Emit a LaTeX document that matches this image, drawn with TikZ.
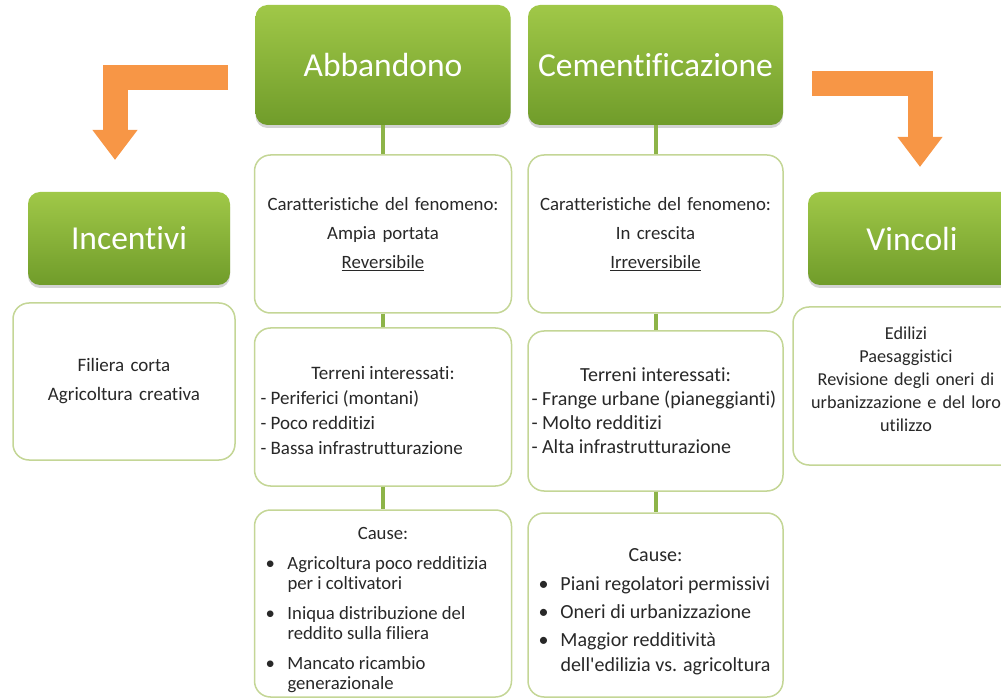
\documentclass[tikz,border=0pt]{standalone}
\usepackage{fontspec}
\setmainfont{Carlito}[Ligatures=NoCommon]
\usepackage{tikz}
\usetikzlibrary{shadows}
\usetikzlibrary{arrows.meta,shapes}
\definecolor{leafgreen}{RGB}{160,200,72}
\definecolor{darkleaf}{RGB}{112,156,42}
\definecolor{paleolive}{RGB}{196,214,150}
\definecolor{linkgreen}{RGB}{141,180,72}
\definecolor{pumpkin}{RGB}{247,150,70}
\definecolor{inkgray}{RGB}{40,40,40}
\newcommand{\boxhead}[2][0pt]{{\centering\rule{0pt}{#1}#2\par}}
\newcommand{\causeitem}[2][10pt]{\par\vspace{#1}\hangindent=25pt\hangafter=1\noindent\makebox[25pt][l]{\hspace{3pt}\textbullet}#2\par}
\tikzstyle{titlebox}=[rectangle,rounded corners=12pt,top color=leafgreen,bottom color=darkleaf,text=white,font=\fontsize{33.5}{40}\selectfont,drop shadow={opacity=0.35,shadow xshift=0pt,shadow yshift=-3pt}]
\tikzstyle{infobox}=[rectangle,rounded corners=16pt,draw=paleolive,line width=1.5pt,fill=white,text=inkgray,inner xsep=7pt,font=\fontsize{18.8}{27}\selectfont]
\tikzstyle{edge}=[draw,linkgreen,line width=4pt]
\tikzstyle{bigarrow}=[draw,pumpkin,line width=25pt,line join=miter,-{Triangle[width=43pt,length=30pt]}]

\begin{document}
\begin{tikzpicture}[x=1pt,y=-1pt]
    \useasboundingbox (0,0) rectangle (1001,700);

    \foreach \x/\y/\w/\h/\name/\txt in {383/65/255/120/abb/Abbandono, 655.5/65/255/120/cem/Cementificazione, 129/238.5/202/93/inc/Incentivi, 912/238.5/208/93/vin/Vincoli}
        \node[titlebox, minimum width=\w, minimum height=\h] (\name) at (\x,\y) {\txt};

    \node[infobox, minimum width=257, minimum height=158, text width=243, align=center, font=\fontsize{18.8}{29}\selectfont] (abb1) at (383,234)
        {Caratteristiche del fenomeno:\\Ampia portata\\\underline{Reversibile}};
    \node[infobox, minimum width=257, minimum height=158, text width=245, inner xsep=6pt, align=flush left, font=\fontsize{19}{25}\selectfont] (abb2) at (383,407)
        {\boxhead[20pt]{Terreni interessati:}- Periferici (montani)\\- Poco redditizi\\- Bassa infrastrutturazione};
    \node[infobox, minimum width=257, minimum height=187, text width=241, inner xsep=8pt, align=flush left, font=\fontsize{18.7}{20}\selectfont] (abb3) at (383,603.5)
        {\boxhead[26pt]{Cause:}\causeitem{Agricoltura poco redditizia per i coltivatori}\causeitem{Iniqua distribuzione del reddito sulla filiera}\causeitem{Mancato ricambio generazionale}};

    \node[infobox, minimum width=255, minimum height=158, text width=241, align=center, font=\fontsize{18.8}{29}\selectfont] (cem1) at (655.5,234)
        {Caratteristiche del fenomeno:\\In crescita\\\underline{Irreversibile}};
    \node[infobox, minimum width=255, minimum height=160, text width=248, inner xsep=3.5pt, align=flush left, font=\fontsize{20}{24}\selectfont] (cem2) at (655.5,411)
        {\boxhead{Terreni interessati:}- Frange urbane (pianeggianti)\\- Molto redditizi\\- Alta infrastrutturazione};
    \node[infobox, minimum width=255, minimum height=184, text width=240, inner xsep=7.5pt, align=flush left, font=\fontsize{20}{25}\selectfont] (cem3) at (655.5,605)
        {\boxhead[26pt]{Cause:}\causeitem[4pt]{Piani regolatori permissivi}\causeitem[3pt]{Oneri di urbanizzazione}\causeitem[3pt]{Maggior redditivit\`a dell\textquotesingle edilizia vs. agricoltura}};

    \node[infobox, minimum width=222, minimum height=157, text width=208, align=center, font=\fontsize{19}{29}\selectfont] (inc1) at (124,381.5)
        {Filiera corta\\Agricoltura creativa};
    \node[infobox, minimum width=226, minimum height=158, text width=218, inner xsep=4pt, align=center, font=\fontsize{18.2}{23}\selectfont] (vin1) at (906,386)
        {Edilizi\\Paesaggistici\\Revisione degli oneri di\\urbanizzazione e del loro\\utilizzo\par\nointerlineskip\rule{0pt}{14pt}};

    \foreach \source/\dest in {abb/abb1, abb1/abb2, abb2/abb3, cem/cem1, cem1/cem2, cem2/cem3}
        \path[edge] (\source) -- (\dest);

    % orange arrows
    \coordinate (lstart) at (228,78);
    \coordinate (lbend) at (115,78);
    \coordinate (lend) at (115,160);
    \coordinate (rstart) at (812,84);
    \coordinate (rbend) at (920,84);
    \coordinate (rend) at (920,167);
    \path[bigarrow] (lstart) -- (lbend) -- (lend);
    \path[bigarrow] (rstart) -- (rbend) -- (rend);

\end{tikzpicture}
\end{document}
